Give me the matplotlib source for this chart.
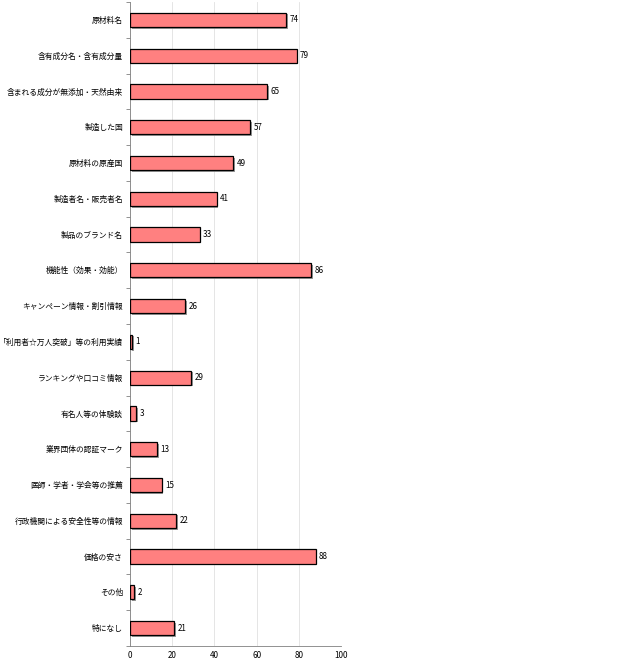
import numpy as np
import matplotlib
matplotlib.use('Agg')
import matplotlib.pyplot as plt
import matplotlib.patheffects as pe

plt.rcParams['font.family'] = ['Noto Sans CJK JP', 'DejaVu Sans']

# Datos del gráfico
categorias = [
    '原材料名',
    '含有成分名・含有成分量',
    '含まれる成分が無添加・天然由来',
    '製造した国',
    '原材料の原産国',
    '製造者名・販売者名',
    '製品のブランド名',
    '機能性（効果・効能）',
    'キャンペーン情報・割引情報',
    '「利用者☆万人突破」等の利用実績',
    'ランキングや口コミ情報',
    '有名人等の体験談',
    '業界団体の認証マーク',
    '医師・学者・学会等の推薦',
    '行政機関による安全性等の情報',
    '価格の安さ',
    'その他',
    '特になし',
]
valores = [74, 79, 65, 57, 49, 41, 33, 86, 26, 1, 29, 3, 13, 15, 22, 88, 2, 21]
ticks_x = [0, 20, 40, 60, 80, 100]

fig = plt.figure(figsize=(6.18, 6.62), dpi=100)
ax = fig.add_axes([130 / 618, 1 - 646 / 662, 211 / 618, 644 / 662])

y = np.arange(len(categorias))
barras = ax.barh(y, valores, height=0.4, color='#FF8080', edgecolor='black',
                 linewidth=0.9, zorder=3)
for b in barras:
    b.set_path_effects([pe.SimplePatchShadow(offset=(1.2, -1.2),
                                             shadow_rgbFace='#808080', alpha=0.8),
                        pe.Normal()])

for yi, v in zip(y, valores):
    ax.text(v + 1.6, yi, str(v), va='center', ha='left', fontsize=5.8,
            color='black')

ax.set_xlim(0, 100)
ax.set_ylim(len(categorias) - 0.5, -0.5)
ax.set_xticks(ticks_x)
ax.set_xticklabels([str(t) for t in ticks_x], fontsize=5.8)
ax.set_yticks(y)
ax.set_yticklabels(categorias, fontsize=5.6)
ax.tick_params(axis='y', length=0, pad=5)
ax.tick_params(axis='x', length=0, pad=3.5)

# marcas en los límites de categoría
ax.set_yticks(np.arange(len(categorias) + 1) - 0.5, minor=True)
ax.tick_params(axis='y', which='minor', length=3, width=0.6, color='#808080',
               direction='out')

ax.grid(axis='x', color='#E0E0E0', linewidth=0.6, zorder=0)
ax.set_axisbelow(True)
for s in ['top', 'right']:
    ax.spines[s].set_visible(False)
ax.spines['left'].set_color('#808080')
ax.spines['bottom'].set_color('#808080')
ax.spines['left'].set_linewidth(0.6)
ax.spines['bottom'].set_linewidth(0.6)

fig.savefig('out.png', dpi=100)
